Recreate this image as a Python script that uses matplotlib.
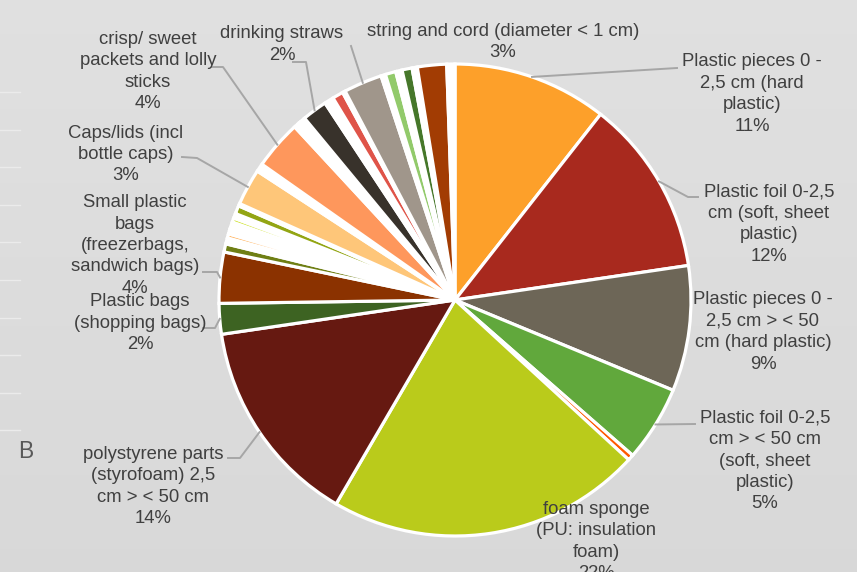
import numpy as np
import matplotlib
matplotlib.use("Agg")
import matplotlib.pyplot as plt

W, H = 857, 572

# slice shares in % (clockwise from 12 o'clock)
shares = [10.6, 12.1, 8.6, 5.2, 0.4, 21.6, 14.3, 2.1, 3.5,
          0.56, 0.42, 0.28, 0.28, 0.14, 0.42, 0.28, 0.33, 0.56, 0.17,
          2.5, 0.56, 3.36, 0.33, 0.14, 0.42, 1.72, 0.64, 0.75, 0.19,
          2.64, 0.31, 0.72, 0.44, 0.69, 0.36, 2.0, 0.56]
colors = ['#FDA02A', '#A8291E', '#6D6657', '#61A83C', '#FF5A00', '#BACB1B', '#661911', '#3D6322', '#8B3200',
          '#6F7F15', 'white', '#FFAF55', 'white', '#FADADD', 'white', '#CDE225', 'white', '#93A514', 'white',
          '#FEC679', 'white', '#FE975C', 'white', '#8E5208', 'white', '#38322B', 'white', '#DF5449', 'white',
          '#A0968B', 'white', '#92CA6B', 'white', '#46772A', 'white', '#A23C03', 'white']

# labelled slices: index into shares -> label text
labels = {
    0: 'Plastic pieces 0 -\n2,5 cm (hard\nplastic)\n11%',
    1: 'Plastic foil 0-2,5\ncm (soft, sheet\nplastic)\n12%',
    2: 'Plastic pieces 0 -\n2,5 cm > < 50\ncm (hard plastic)\n9%',
    3: 'Plastic foil 0-2,5\ncm > < 50 cm\n(soft, sheet\nplastic)\n5%',
    5: 'foam sponge\n(PU: insulation\nfoam)\n22%',
    6: 'polystyrene parts\n(styrofoam) 2,5\ncm > < 50 cm\n14%',
    7: 'Plastic bags\n(shopping bags)\n2%',
    8: 'Small plastic\nbags\n(freezerbags,\nsandwich bags)\n4%',
    19: 'Caps/lids (incl\nbottle caps)\n3%',
    21: 'crisp/ sweet\npackets and lolly\nsticks\n4%',
    25: 'drinking straws\n2%',
    29: 'string and cord (diameter < 1 cm)\n3%',
}

# label layout in pixels: text centre, leader line points after the pie edge
layout = {
    0: ((752, 94), [(677, 68)]),
    1: ((769, 224), [(688, 197), (698, 197)]),
    2: ((763, 332), []),
    3: ((765, 461), [(695, 424)]),
    5: ((596, 541.5), []),
    6: ((153, 486.5), [(240, 458), (228, 458)]),
    7: ((140, 323), [(215, 328), (203, 328)]),
    8: ((135, 245.5), [(217, 272), (203, 272)]),
    19: ((126, 154.5), [(197, 158), (182, 157)]),
    21: ((148, 71.5), [(223, 67), (212, 67)]),
    25: ((282, 44.5), [(306, 62), (293, 62)]),
    29: ((503, 42), [(351, 46)]),
}

plt.rcParams['font.family'] = ['Liberation Sans', 'DejaVu Sans']

fig = plt.figure(figsize=(W / 100, H / 100), dpi=100)
ax = fig.add_axes([0, 0, 1, 1])

# slide background, slight vertical gradient
grad = np.linspace(0.88, 0.85, 100).reshape(-1, 1)
ax.imshow(np.dstack([grad, grad, grad]), extent=[0, W, 0, H], aspect='auto', zorder=0)

def py(y):
    return H - y

cx, cy, r = 455, py(300), 236
wedges, _ = ax.pie(shares, colors=colors, startangle=90, counterclock=False,
                   center=(cx, cy), radius=r, frame=True,
                   wedgeprops=dict(edgecolor='white', linewidth=2.3))
ax.set_xlim(0, W)
ax.set_ylim(0, H)
ax.set_aspect('equal')
ax.axis('off')

txt_color = '#404040'
for i, text in labels.items():
    (tx, ty), pts = layout[i]
    ax.text(tx, py(ty), text, ha='center', va='center', fontsize=13.3,
            color=txt_color, linespacing=1.34, multialignment='center', zorder=5)
    if pts:
        w = wedges[i]
        mid = np.deg2rad((w.theta1 + w.theta2) / 2)
        xs = [cx + r * np.cos(mid)] + [p[0] for p in pts]
        ys = [cy + r * np.sin(mid)] + [py(p[1]) for p in pts]
        ax.plot(xs, ys, color='#A6A6A6', lw=1.4, zorder=4)

# faint slide marks on the left edge and the "B"
for k in range(10):
    y = 92 + 37.6 * k
    ax.plot([0, 20], [py(y), py(y)], color='#EBEBEB', lw=1, zorder=1)
ax.text(26, py(452), 'B', ha='center', va='center', fontsize=16.5, color='#595959')

fig.savefig('out.png', dpi=100)
